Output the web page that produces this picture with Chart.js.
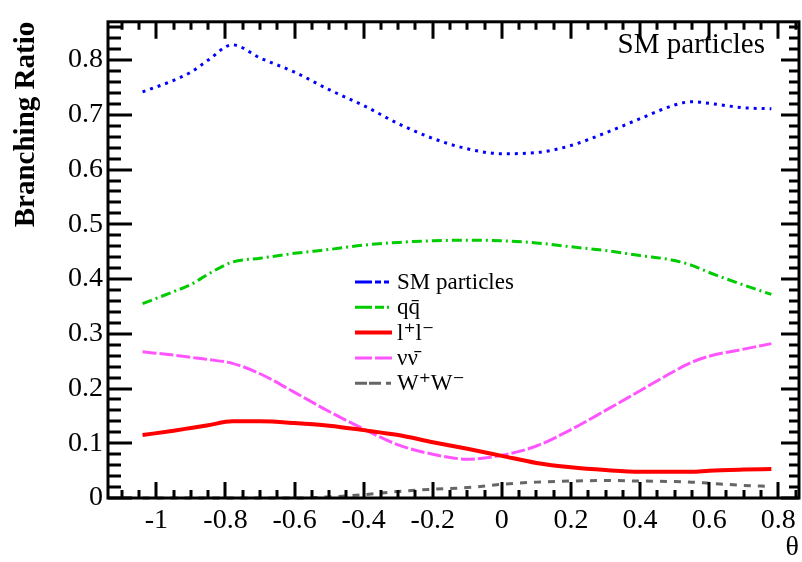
<!DOCTYPE html>
<html>
<head>
<meta charset="utf-8">
<script src="https://cdn.jsdelivr.net/npm/chart.js@4/dist/chart.umd.min.js"></script>
<style>
  body { margin: 0; background: #fff; }
</style>
</head>
<body>
<canvas id="myChart" width="802" height="562"></canvas>
<script>
var theta = [-1.04, -0.95, -0.9, -0.85, -0.78, -0.7, -0.6, -0.5, -0.4, -0.3, -0.2, -0.1,
             0, 0.1, 0.2, 0.3, 0.4, 0.5, 0.55, 0.6, 0.7, 0.78];
var smParticles = [0.742, 0.763, 0.778, 0.800, 0.828, 0.804, 0.778, 0.746, 0.717, 0.684, 0.657, 0.638,
                   0.629, 0.631, 0.644, 0.667, 0.693, 0.718, 0.724, 0.721, 0.713, 0.711];
var qqbar = [0.355, 0.377, 0.390, 0.409, 0.431, 0.438, 0.447, 0.454, 0.462, 0.467, 0.470, 0.471,
             0.470, 0.466, 0.459, 0.452, 0.443, 0.434, 0.425, 0.412, 0.389, 0.372];
var leptons = [0.115, 0.123, 0.128, 0.133, 0.140, 0.140, 0.137, 0.132, 0.124, 0.115, 0.102, 0.090,
               0.077, 0.064, 0.056, 0.051, 0.048, 0.048, 0.048, 0.050, 0.052, 0.053];
var neutrinos = [0.267, 0.261, 0.257, 0.253, 0.246, 0.227, 0.193, 0.158, 0.126, 0.097, 0.080, 0.071,
                 0.078, 0.095, 0.125, 0.160, 0.196, 0.232, 0.248, 0.259, 0.272, 0.282];
var wpwm = [0.0, 0.0, 0.0, 0.0, 0.0, 0.0, 0.0, 0.002, 0.006, 0.012, 0.016, 0.019,
            0.025, 0.029, 0.031, 0.032, 0.031, 0.030, 0.029, 0.027, 0.023, 0.021];

var xTicks = [-1, -0.8, -0.6, -0.4, -0.2, 0, 0.2, 0.4, 0.6, 0.8];
var yTicks = [0, 0.1, 0.2, 0.3, 0.4, 0.5, 0.6, 0.7, 0.8];

function pts(vals) {
    return theta.map(function (t, i) { return { x: t, y: vals[i] }; });
}

var serif = '"Liberation Serif", "DejaVu Serif", serif';

/* frame, inward ticks, legend and label drawn on top of the plot */
var framePlugin = {
    id: 'frame',
    afterDraw: function (chart) {
        var c = chart.ctx, a = chart.chartArea;
        var sx = chart.scales.x, sy = chart.scales.y;
        c.save();
        c.strokeStyle = '#000';
        c.lineWidth = 3;
        c.strokeRect(a.left, a.top, a.right - a.left, a.bottom - a.top);
        c.lineWidth = 3;
        c.beginPath();
        // x ticks every 0.05, major every 0.2
        for (var k = -22; k <= 17; k++) {
            var v = k * 0.05;
            if (v < sx.min || v > sx.max) continue;
            var px = Math.round(sx.getPixelForValue(v));
            var major = Math.abs(v / 0.2 - Math.round(v / 0.2)) < 1e-6;
            c.moveTo(px, a.bottom); c.lineTo(px, a.bottom - (major ? 16 : 8));
            c.moveTo(px, a.top); c.lineTo(px, a.top + (major ? 17 : 8));
        }
        // y ticks every 0.02, major every 0.1
        for (var j = 0; j <= 43; j++) {
            var w = j * 0.02;
            if (w > sy.max) continue;
            var py = Math.round(sy.getPixelForValue(w));
            var maj = j % 5 === 0;
            c.moveTo(a.left, py); c.lineTo(a.left + (maj ? 24 : 13), py);
            c.moveTo(a.right, py); c.lineTo(a.right - (maj ? 18 : 10), py);
        }
        c.stroke();

        // label in top right corner
        c.fillStyle = '#000';
        c.font = '29px ' + serif;
        c.textAlign = 'right';
        c.textBaseline = 'alphabetic';
        c.fillText('SM particles', 765, 53);

        // legend
        c.font = '23px ' + serif;
        c.textAlign = 'left';
        c.textBaseline = 'middle';
        chart.data.datasets.forEach(function (ds, i) {
            var y = 282 + i * 25.3;
            c.strokeStyle = ds.borderColor;
            c.lineWidth = ds.borderWidth;
            c.setLineDash(ds.legendDash || []);
            c.beginPath();
            c.moveTo(355, y); c.lineTo(392, y);
            c.stroke();
            c.setLineDash([]);
            c.fillStyle = '#000';
            c.fillText(ds.label, 397, y + 1);
        });
        c.restore();
    }
};

var ctx = document.getElementById('myChart').getContext('2d');
var myChart = new Chart(ctx, {
    type: 'line',
    data: {
        datasets: [{
            label: 'SM particles',
            data: pts(smParticles),
            borderColor: '#0000ff',
            borderWidth: 3,
            borderDash: [3, 5],
            legendDash: [17, 3, 6, 3, 5]
        }, {
            label: 'qq\u0304',
            data: pts(qqbar),
            borderColor: '#00cc00',
            borderWidth: 3,
            borderDash: [10, 4, 2, 4],
            legendDash: [17, 3, 9, 3, 2, 20]
        }, {
            label: 'l\u207Al\u207B',
            data: pts(leptons),
            borderColor: '#ff0000',
            borderWidth: 4,
            borderDash: [],
            legendDash: []
        }, {
            label: '\u03BD\u03BD\u0304',
            data: pts(neutrinos),
            borderColor: '#ff55ff',
            borderWidth: 3,
            borderDash: [14, 3],
            legendDash: [17, 3]
        }, {
            label: 'W\u207AW\u207B',
            data: pts(wpwm),
            borderColor: '#666666',
            borderWidth: 3,
            borderDash: [7, 7],
            legendDash: [12, 2, 12, 5, 5, 20]
        }]
    },
    options: {
        responsive: false,
        animation: false,
        clip: 6,
        layout: { padding: { top: 11, right: 3, left: 0, bottom: 0 } },
        elements: {
            point: { radius: 0 },
            line: { tension: 0.4, cubicInterpolationMode: 'monotone', fill: false }
        },
        plugins: { legend: { display: false }, tooltip: { enabled: false } },
        scales: {
            x: {
                type: 'linear',
                min: -1.14,
                max: 0.86,
                grid: { display: false, drawTicks: false },
                border: { display: false },
                afterFit: function (s) { s.height = 64; },
                afterBuildTicks: function (s) { s.ticks = xTicks.map(function (v) { return { value: v }; }); },
                ticks: {
                    padding: 6,
                    color: '#000',
                    font: { family: serif, size: 28 },
                    callback: function (v) { return String(Number(v.toFixed(1))); }
                },
                title: {
                    display: true,
                    text: '\u03B8',
                    align: 'end',
                    color: '#000',
                    padding: 0,
                    font: { family: serif, size: 28, lineHeight: 1 }
                }
            },
            y: {
                min: 0,
                max: 0.87,
                grid: { display: false, drawTicks: false },
                border: { display: false },
                afterFit: function (s) { s.width = 108; },
                afterBuildTicks: function (s) { s.ticks = yTicks.map(function (v) { return { value: v }; }); },
                ticks: {
                    padding: 5,
                    color: '#000',
                    font: { family: serif, size: 28 },
                    callback: function (v) { return v === 0 ? '0' : v.toFixed(1); }
                },
                title: {
                    display: true,
                    text: 'Branching Ratio',
                    align: 'end',
                    color: '#000',
                    padding: { top: 12, bottom: 0 },
                    font: { family: serif, size: 29, weight: 'bold', lineHeight: 1 }
                }
            }
        }
    },
    plugins: [framePlugin]
});
</script>
</body>
</html>
